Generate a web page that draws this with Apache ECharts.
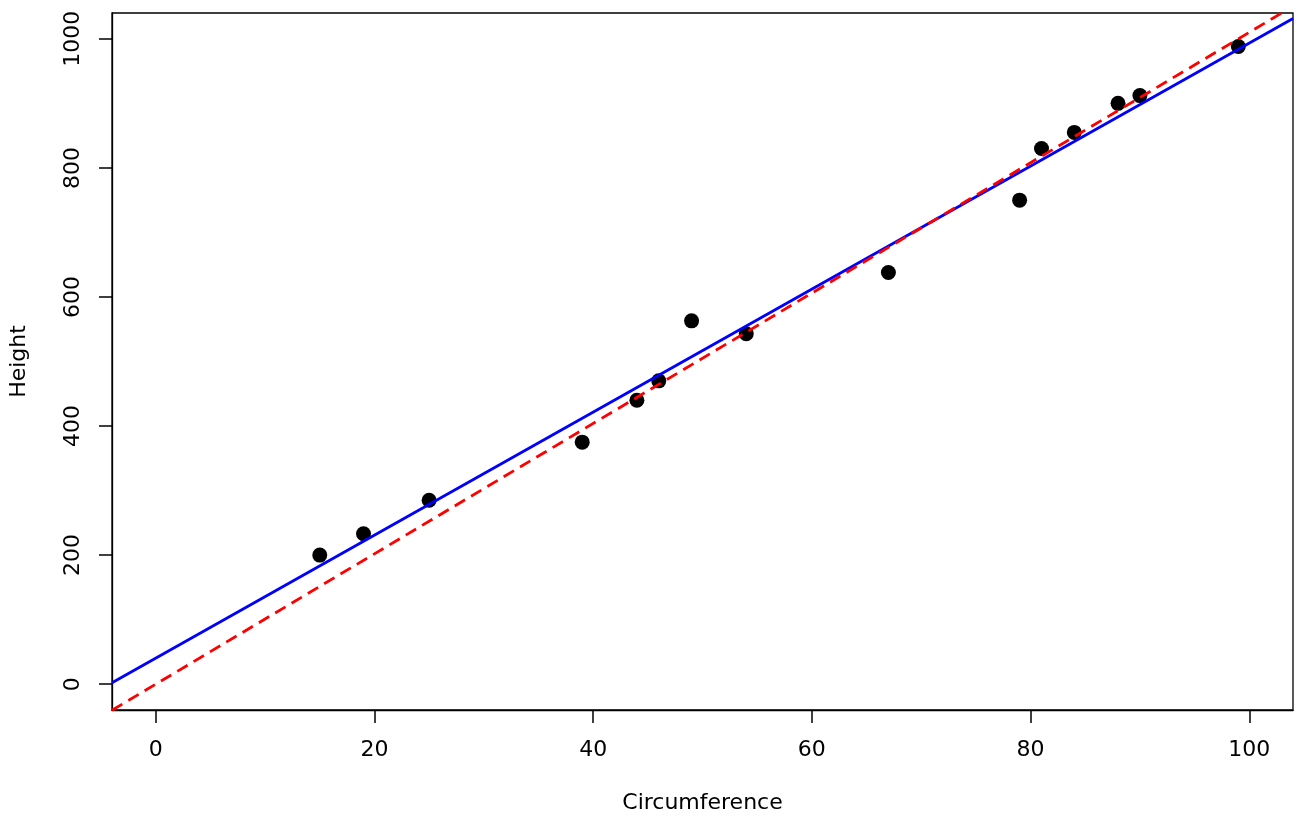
<!DOCTYPE html>
<html lang="en">
<head>
    <meta charset="UTF-8">
    <title>Height vs Circumference</title>
    <script src="https://cdn.jsdelivr.net/npm/echarts@6.0.0/dist/echarts.min.js"></script>
    <style>
        html, body { margin: 0; padding: 0; background: #fff; }
    </style>
</head>
<body>
<div id="main" style="width: 1305px;height:826px;"></div>
<script>
    // data
    var circumference = [15, 19, 25, 39, 44, 46, 49, 54, 67, 79, 81, 84, 88, 90, 99];
    var height = [200, 233, 285, 375, 440, 470, 563, 543, 638, 750, 830, 855, 900, 912, 988];

    var xTicks = [0, 20, 40, 60, 80, 100];
    var yTicks = [0, 200, 400, 600, 800, 1000];
    var xRange = [-4, 104];
    var yRange = [-40, 1040];

    // blue: fitted line with intercept, red dashed: line through the origin
    var fitLine = { intercept: 40.3, slope: 9.53 };
    var refLine = { intercept: 0, slope: 10.1 };

    function lineData(l) {
        return xRange.map(function (x) { return [x, l.intercept + l.slope * x]; });
    }

    var points = circumference.map(function (x, i) { return [x, height[i]]; });

    var font = 'DejaVu Sans';
    var fs = 22;
    var myChart = echarts.init(document.getElementById('main'));

    var option = {
        backgroundColor: '#fff',
        animation: false,
        grid: {
            left: 110, right: 12, top: 13, bottom: 116,
            show: true, borderColor: '#000', borderWidth: 1.3
        },
        xAxis: {
            type: 'value',
            min: xRange[0], max: xRange[1],
            name: 'Circumference',
            nameLocation: 'middle',
            nameGap: 82,
            nameTextStyle: { color: '#000', fontSize: fs, fontFamily: font },
            axisLine: { show: true, onZero: false, lineStyle: { color: '#000', width: 1.3 } },
            splitLine: { show: false },
            axisTick: {
                show: true, length: 13,
                customValues: xTicks,
                lineStyle: { color: '#000', width: 1.5 }
            },
            axisLabel: {
                customValues: xTicks,
                margin: 29,
                color: '#000', fontSize: fs, fontFamily: font,
                formatter: function (v) { return String(v); }
            }
        },
        yAxis: {
            type: 'value',
            min: yRange[0], max: yRange[1],
            name: 'Height',
            nameLocation: 'middle',
            nameGap: 82,
            nameTextStyle: { color: '#000', fontSize: fs, fontFamily: font },
            axisLine: { show: true, onZero: false, lineStyle: { color: '#000', width: 1.3 } },
            splitLine: { show: false },
            axisTick: {
                show: true, length: 13,
                customValues: yTicks,
                lineStyle: { color: '#000', width: 1.5 }
            },
            axisLabel: {
                customValues: yTicks,
                rotate: 90,
                margin: 28,
                color: '#000', fontSize: fs, fontFamily: font,
                formatter: function (v) { return String(v); }
            }
        },
        series: [
            {
                type: 'scatter',
                data: points,
                symbol: 'circle',
                symbolSize: 15,
                z: 2,
                itemStyle: { color: '#000', opacity: 1 }
            },
            {
                type: 'line',
                data: lineData(fitLine),
                showSymbol: false,
                symbol: 'none',
                clip: true,
                z: 3,
                lineStyle: { color: '#0000ff', width: 2.8 }
            },
            {
                type: 'line',
                data: lineData(refLine),
                showSymbol: false,
                symbol: 'none',
                clip: true,
                z: 4,
                lineStyle: { color: '#ff0000', width: 2.8, type: [12, 7] }
            }
        ]
    };

    myChart.setOption(option);
</script>
</body>
</html>
